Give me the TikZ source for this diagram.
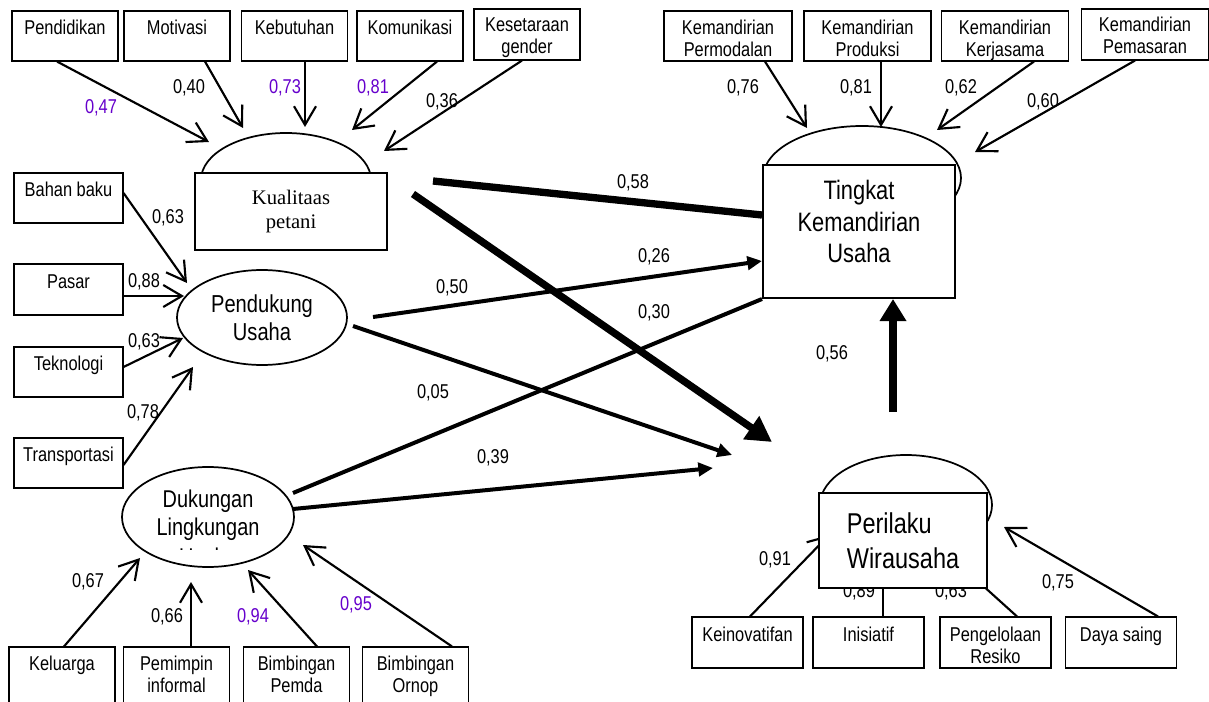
\documentclass[tikz,border=0pt]{standalone}
\usepackage{fontspec}
\setmainfont{Liberation Sans}[FakeStretch=0.82]
\newfontfamily\tnr{Liberation Serif}
\usetikzlibrary{arrows.meta,shapes.geometric}
\definecolor{vio}{RGB}{102,0,204}
\newcommand\bx[2][-4pt]{\raisebox{#1}[\height][\depth]{\begin{tabular}{@{}c@{}}#2\end{tabular}}}
\begin{document}
\begin{tikzpicture}[x=0.75pt,y=-0.75pt,
  box/.style={draw, line width=0.8pt, inner sep=0pt, minimum width=79.5pt, minimum height=37.5pt, font=\fontsize{15}{16.5}\selectfont},
  wbox/.style={box, minimum width=95.25pt},
  lbox/.style={box, minimum width=81.75pt},
  bbox/.style={box, minimum height=42pt},
  rbox/.style={box, minimum width=83.25pt, minimum height=38.25pt},
  lab/.style={inner sep=0pt, font=\fontsize{15}{16.5}\selectfont},
  labv/.style={lab, text=vio},
  lat/.style={draw, line width=1.3pt, ellipse, inner sep=0pt},
  latbox/.style={draw, line width=1.5pt, fill=white, inner sep=0pt},
  ind/.style={line width=1.6pt, -{Straight Barb[length=14pt,width=16.5pt]}},
  pth/.style={line width=3pt},
  pthh/.style={pth, -{Triangle[length=11pt,width=10pt]}},
  thk/.style={line width=5.5pt}
]
\path[fill=white] (0,0) rectangle (1209,702);
\useasboundingbox (0,0) rectangle (1209,702);

% latent shapes (arcs behind boxes)
\node[lat, minimum width=127.5pt, minimum height=70.5pt] (kualE) at (286,180) {};
\node[latbox, minimum width=144pt, minimum height=57.75pt, font=\tnr\fontsize{15.5}{18}\selectfont, align=center] (kual) at (291,211.5) {Kualitaas\\petani};
\node[lat, minimum width=148.5pt, minimum height=78pt] (tingE) at (862,178) {};
\node[latbox, minimum width=144pt, minimum height=99.75pt, font=\fontsize{20}{23.6}\selectfont] (ting) at (859,231.5) {\bx[5pt]{Tingkat\\Kemandirian\\Usaha}};
\node[lat, minimum width=127.5pt, minimum height=71.25pt, font=\fontsize{18.4}{21}\selectfont, align=center] (pdu) at (262,317.5) {Pendukung\\Usaha};
\node[lat, minimum width=129pt, minimum height=75pt, font=\fontsize{18.2}{21}\selectfont] (dlk) at (208,517) {\bx[1pt]{Dukungan\\Lingkungan}};
\begin{scope}
  \clip (150,543) rectangle (270,549.5);
  \node[inner sep=0pt, font=\fontsize{18.2}{21}\selectfont] (dlu) at (208,556.5) {Usaha};
\end{scope}
\node[lat, minimum width=129pt, minimum height=75pt] (periE) at (906,505) {};

% indicator boxes
\node[box] (pdk) at (65,36) {\bx{Pendidikan\\\mbox{}}};
\node[box] (mot) at (177,36) {\bx{Motivasi\\\mbox{}}};
\node[box] (keb) at (294.5,36) {\bx{Kebutuhan\\\mbox{}}};
\node[box] (kom) at (410,36) {\bx{Komunikasi\\\mbox{}}};
\node[box, minimum height=38.25pt] (kes) at (527,34.5) {\bx[-2.5pt]{Kesetaraan\\gender}};

\node[wbox, minimum width=96pt] (kpm) at (728,36) {\bx{Kemandirian\\Permodalan}};
\node[wbox] (kpr) at (867.5,36) {\bx{Kemandirian\\Produksi}};
\node[wbox] (kkj) at (1005,36) {\bx{Kemandirian\\Kerjasama}};
\node[wbox, minimum height=38.25pt] (kps) at (1145,34.5) {\bx[-2.5pt]{Kemandirian\\Pemasaran}};

\node[lbox] (bhn) at (68.5,198) {\bx{Bahan baku\\\mbox{}}};
\node[lbox, minimum height=38.25pt] (psr) at (68.5,289.5) {\bx{Pasar\\\mbox{}}};
\node[lbox] (tek) at (68.5,372) {\bx{Teknologi\\\mbox{}}};
\node[lbox] (trn) at (68.5,463) {\bx{Transportasi\\\mbox{}}};

\node[bbox] (kel) at (62,675) {\bx[-1.2pt]{Keluarga\\\mbox{}}};
\node[bbox] (pmp) at (176.5,675) {\bx[-1.2pt]{Pemimpin\\informal}};
\node[bbox] (bpd) at (296.5,675) {\bx[-1.2pt]{Bimbingan\\Pemda}};
\node[bbox] (bor) at (415.5,675) {\bx[-1.2pt]{Bimbingan\\Ornop}};

\node[rbox] (kin) at (747.5,642.5) {\bx{Keinovatifan\\\mbox{}}};
\node[rbox] (ins) at (868.5,642.5) {\bx{Inisiatif\\\mbox{}}};
\node[rbox] (pgl) at (995.5,642.5) {\bx{Pengelolaan\\Resiko}};
\node[rbox] (dys) at (1121,642.5) {\bx{Daya saing\\\mbox{}}};

% free arrow ends
\coordinate (tpdk) at (209,142);
\coordinate (tmot) at (243,128);
\coordinate (tkeb) at (305,127);
\coordinate (tkom) at (352,130);
\coordinate (tkes) at (384,151);
\coordinate (tkpm) at (807,128);
\coordinate (tkpr) at (881,127);
\coordinate (tkkj) at (937,130);
\coordinate (tkps) at (975,152);
\coordinate (tbhn) at (187,283);
\coordinate (tpsr) at (184,296);
\coordinate (ttek) at (183,338);
\coordinate (ttrn) at (193,367);
\coordinate (tkel) at (140,558);
\coordinate (tpmp) at (191,582);
\coordinate (tbpd) at (248,570);
\coordinate (tbor) at (303,545);
\coordinate (tkin) at (829,535);
\coordinate (tins) at (883,565);
\coordinate (tpgl) at (960,565);
\coordinate (tdys) at (1004,527);

% indicator arrows
\draw[ind] (pdk.south -| 57,0) -- (tpdk);
\draw[ind] (mot.south -| 205,0) -- (tmot);
\draw[ind] (keb.south -| 305,0) -- (tkeb);
\draw[ind] (kom.south -| 437,0) -- (tkom);
\draw[ind] (kes.south -| 522,0) -- (tkes);
\draw[ind] (kpm.south -| 765,0) -- (tkpm);
\draw[ind] (kpr.south -| 881,0) -- (tkpr);
\draw[ind] (kkj.south -| 1034,0) -- (tkkj);
\draw[ind] (kps.south -| 1135,0) -- (tkps);
\draw[ind] (bhn.east |- 0,193) -- (tbhn);
\draw[ind] (psr.east |- 0,296) -- (tpsr);
\draw[ind] (tek.east |- 0,367) -- (ttek);
\draw[ind] (trn.east |- 0,465) -- (ttrn);
\draw[ind] (kel.north -| 64,0) -- (tkel);
\draw[ind] (pmp.north -| 191,0) -- (tpmp);
\draw[ind] (bpd.north -| 317,0) -- (tbpd);
\draw[ind] (bor.north -| 452,0) -- (tbor);
\draw[ind] (kin.north -| 750,0) -- (tkin);
\draw[ind] (ins.north -| 883,0) -- (tins);
\draw[ind] (pgl.north -| 1017,0) -- (tpgl);
\draw[ind] (dys.north -| 1158,0) -- (tdys);

% loading labels
\node[labv] (l047) at (101,108) {0,47};
\node[lab] (l040) at (189,88) {0,40};
\node[labv] (l073) at (285,88) {0,73};
\node[labv] (l081) at (373,88) {0,81};
\node[lab] (l036) at (442,102) {0,36};
\node[lab] (l076) at (743,88) {0,76};
\node[lab] (l081b) at (856,88) {0,81};
\node[lab] (l062) at (961,88) {0,62};
\node[lab] (l060) at (1043,102) {0,60};
\node[lab] (l063) at (168,218) {0,63};
\node[lab] (l088) at (144,282) {0,88};
\node[lab] (l063b) at (144,342) {0,63};
\node[lab] (l078) at (143,413) {0,78};
\node[lab] (l067) at (88,582) {0,67};
\node[lab] (l066) at (167,617) {0,66};
\node[labv] (l094) at (253,617) {0,94};
\node[labv] (l095) at (356,605) {0,95};
\node[lab] (l091) at (775,560) {0,91};
\node[lab] (l089) at (859,592) {0,89};
\node[lab] (l063c) at (951,592) {0,63};
\node[lab] (l075) at (1058,583) {0,75};

% structural paths
\coordinate (s58) at (433,181);
\coordinate (skp) at (413,194);
\coordinate (tkp) at (772,442);
\coordinate (s50) at (373,317);
\coordinate (s05) at (353,326);
\coordinate (t05) at (732,455);
\coordinate (s30) at (293,493);
\coordinate (s39) at (293,509);
\coordinate (t39) at (713,468);
\coordinate (s56) at (893,412);
\draw[thk] (s58) -- (ting.west |- 0,215);
\draw[thk, -{Triangle[length=19pt,width=20pt]}] (skp) -- (tkp);
\draw[pthh] (s50) -- (ting.west |- 0,261);
\draw[pthh] (s05) -- (t05);
\draw[pth] (s30) -- (ting.south west);
\draw[pthh] (s39) -- (t39);
\draw[thk, -{Triangle[length=16.5pt,width=19pt]}] (s56) -- (ting.south -| 893,0);

\node[lab] (p58) at (633,183) {0,58};
\node[lab] (p26) at (654,257) {0,26};
\node[lab] (p50) at (452,288) {0,50};
\node[lab] (p30) at (654,313) {0,30};
\node[lab] (p05) at (433,393) {0,05};
\node[lab] (p39) at (493,458) {0,39};
\node[lab] (p56) at (832,354) {0,56};

% Perilaku box on top
\node[latbox, minimum width=126pt, minimum height=71.25pt, font=\fontsize{21.5}{26.25}\selectfont, align=left] (peri) at (903,540.5) {Perilaku\\Wirausaha};
\end{tikzpicture}
\end{document}
